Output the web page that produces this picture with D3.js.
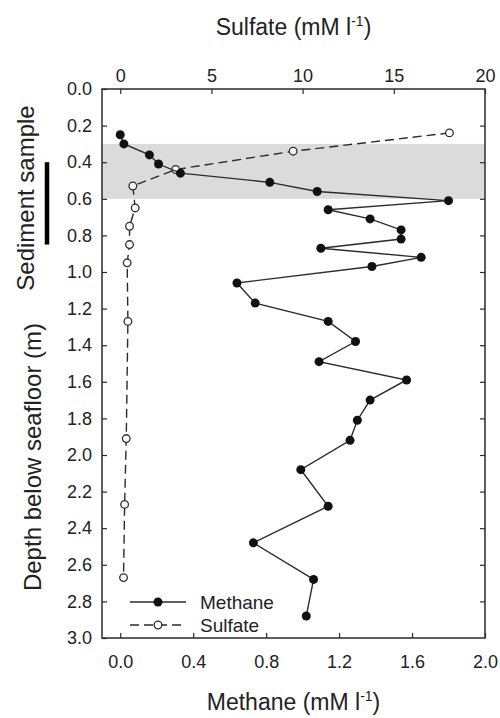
<!DOCTYPE html>
<html>
<head>
<meta charset="utf-8">
<script src="https://cdn.jsdelivr.net/npm/d3@7"></script>
<style>
  body { margin: 0; background: #fff; }
  svg text { font-family: Arial, "Liberation Sans", sans-serif; fill: #222; }
</style>
</head>
<body>
<svg id="chart" width="500" height="718"></svg>
<script>
// depth profiles (m)
let methaneDepth = [0.25, 0.30, 0.36, 0.41, 0.46, 0.51, 0.56, 0.61, 0.66, 0.71, 0.77, 0.82, 0.87, 0.92, 0.97,
    1.06, 1.17, 1.27, 1.38, 1.49, 1.59, 1.70, 1.81, 1.92, 2.08, 2.28, 2.48, 2.68, 2.88]
let methane = [0.00, 0.02, 0.16, 0.21, 0.33, 0.82, 1.08, 1.80, 1.14, 1.37, 1.54, 1.54, 1.10, 1.65, 1.38,
    0.64, 0.74, 1.14, 1.29, 1.09, 1.57, 1.37, 1.30, 1.26, 0.99, 1.14, 0.73, 1.06, 1.02]
let sulfateDepth = [0.24, 0.34, 0.44, 0.53, 0.65, 0.75, 0.85, 0.95, 1.27, 1.91, 2.27, 2.67]
let sulfate = [18.05, 9.48, 3.04, 0.69, 0.82, 0.51, 0.51, 0.38, 0.42, 0.33, 0.24, 0.18]

let methaneTicks = [0, 0.4, 0.8, 1.2, 1.6, 2.0]
let sulfateTicks = [0, 5, 10, 15, 20]
let depthTicks = [0, 0.2, 0.4, 0.6, 0.8, 1.0, 1.2, 1.4, 1.6, 1.8, 2.0, 2.2, 2.4, 2.6, 2.8, 3.0]
let shadedBand = [0.3, 0.6]        // depth range of grey band
let sampleInterval = [0.4, 0.85]   // black bar left of axis
let legendNames = ["Methane", "Sulfate"]

let svg = d3.select("#chart")
let plotLeft = 102, plotRight = 485, plotTop = 89, plotBottom = 638
let ink = "#2b2b2b"

let x = d3.scaleLinear().domain([-0.1, 2.0]).range([plotLeft, plotRight])
let xs = d3.scaleLinear().domain([-1, 20]).range([plotLeft, plotRight])
let y = d3.scaleLinear().domain([0, 3]).range([plotTop, plotBottom])

// grey band
svg.append("rect")
    .attr("x", plotLeft).attr("width", plotRight - plotLeft)
    .attr("y", y(shadedBand[0])).attr("height", y(shadedBand[1]) - y(shadedBand[0]))
    .style("fill", "#dbdbdb")

// sample bar
svg.append("line")
    .attr("x1", 47).attr("x2", 47)
    .attr("y1", y(sampleInterval[0])).attr("y2", y(sampleInterval[1]))
    .style("stroke", "#000").style("stroke-width", 4.5)

// axes, ticks pointing in
function styleAxis(g) {
    g.select(".domain").remove()
    g.selectAll(".tick line").style("stroke", ink).style("stroke-width", 1.2)
    g.selectAll(".tick text").style("font-size", "18px").style("fill", "#222")
}
svg.append("g").attr("transform", `translate(0,${plotBottom})`)
    .call(d3.axisBottom(x).tickValues(methaneTicks).tickFormat(d3.format(".1f")).tickSize(-5).tickPadding(17))
    .call(styleAxis)
svg.append("g").attr("transform", `translate(0,${plotTop})`)
    .call(d3.axisTop(xs).tickValues(sulfateTicks).tickFormat(d3.format("d")).tickSize(-5).tickPadding(7))
    .call(styleAxis)
svg.append("g").attr("transform", `translate(${plotLeft},0)`)
    .call(d3.axisLeft(y).tickValues(depthTicks).tickFormat(d3.format(".1f")).tickSize(-5).tickPadding(10))
    .call(styleAxis)
svg.append("g").attr("transform", `translate(${plotRight},0)`)
    .call(d3.axisRight(y).tickValues(depthTicks.slice(1, -1)).tickFormat("").tickSize(-5))
    .call(styleAxis)

// frame
svg.append("rect")
    .attr("x", plotLeft).attr("y", plotTop).attr("width", plotRight - plotLeft).attr("height", plotBottom - plotTop)
    .style("fill", "none").style("stroke", ink).style("stroke-width", 1.5)

// sulfate dashed line + open circles
let sulfateData = sulfate.map((v, i) => [v, sulfateDepth[i]])
svg.append("path")
    .datum(sulfateData)
    .attr("d", d3.line().x(d => xs(d[0])).y(d => y(d[1])))
    .style("fill", "none").style("stroke", ink).style("stroke-width", 1.4)
    .style("stroke-dasharray", "9,5")
svg.selectAll(".sulfatePt")
    .data(sulfateData)
    .enter()
    .append("circle")
    .attr("class", "sulfatePt")
    .attr("cx", d => xs(d[0])).attr("cy", d => y(d[1])).attr("r", 3.8)
    .style("fill", "#fff").style("stroke", ink).style("stroke-width", 1.3)

// methane solid line + filled circles
let methaneData = methane.map((v, i) => [v, methaneDepth[i]])
svg.append("path")
    .datum(methaneData)
    .attr("d", d3.line().x(d => x(d[0])).y(d => y(d[1])))
    .style("fill", "none").style("stroke", ink).style("stroke-width", 1.4)
svg.selectAll(".methanePt")
    .data(methaneData)
    .enter()
    .append("circle")
    .attr("class", "methanePt")
    .attr("cx", d => x(d[0])).attr("cy", d => y(d[1])).attr("r", 4.5)
    .style("fill", "#111")

// legend
legendNames.forEach(function (name, i) {
    let ly = 602 + i * 23
    let leg = svg.append("g")
    leg.append("line")
        .attr("x1", 130).attr("x2", 186).attr("y1", ly).attr("y2", ly)
        .style("stroke", ink).style("stroke-width", 1.4)
        .style("stroke-dasharray", i == 1 ? "9,5" : null)
    leg.append("circle")
        .attr("cx", 158).attr("cy", ly).attr("r", i == 0 ? 4.5 : 3.8)
        .style("fill", i == 0 ? "#111" : "#fff")
        .style("stroke", ink).style("stroke-width", i == 0 ? 0 : 1.3)
    leg.append("text")
        .attr("x", 200).attr("y", ly).attr("dy", ".35em")
        .style("font-size", "19px")
        .text(name)
})

// axis titles with superscript
function unitTitle(sel, name) {
    sel.append("tspan").text(name + " (mM l")
    sel.append("tspan").text("-1").attr("dy", -9).style("font-size", "14px")
    sel.append("tspan").text(")").attr("dy", 9)
}
svg.append("text")
    .attr("x", (plotLeft + plotRight) / 2).attr("y", 35)
    .attr("text-anchor", "middle").style("font-size", "23px")
    .call(unitTitle, "Sulfate")
svg.append("text")
    .attr("x", (plotLeft + plotRight) / 2).attr("y", 710)
    .attr("text-anchor", "middle").style("font-size", "23px")
    .call(unitTitle, "Methane")
svg.append("text")
    .attr("transform", "translate(34,198) rotate(-90)")
    .attr("text-anchor", "middle").style("font-size", "24px")
    .text("Sediment sample")
svg.append("text")
    .attr("transform", "translate(41,457) rotate(-90)")
    .attr("text-anchor", "middle").style("font-size", "24px")
    .text("Depth below seafloor (m)")
</script>
</body>
</html>
